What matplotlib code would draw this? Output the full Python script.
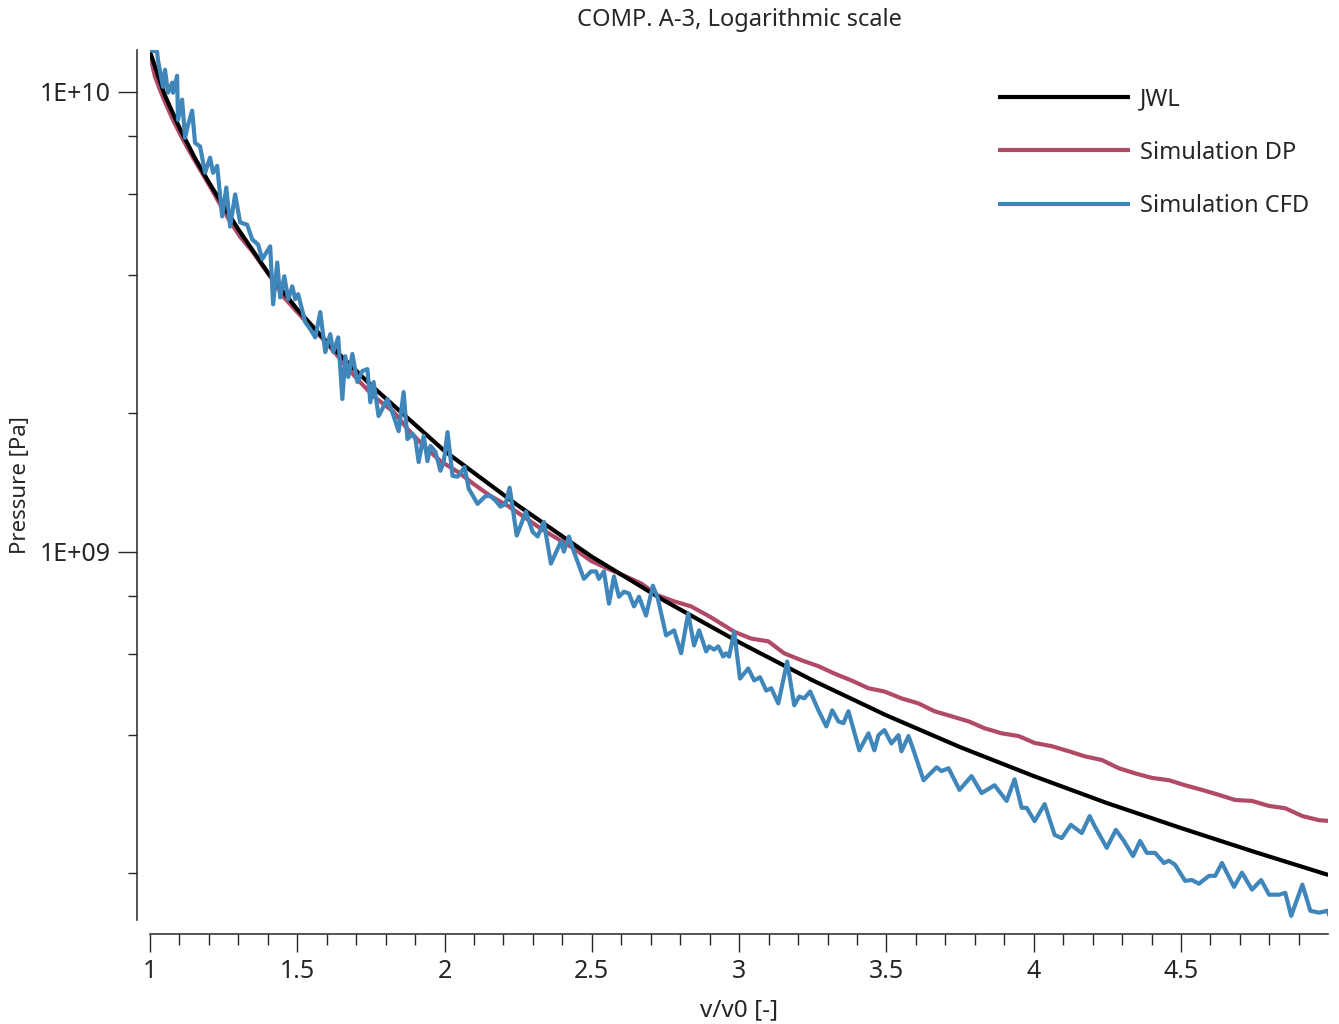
import numpy as np
import matplotlib
matplotlib.use("Agg")
import matplotlib.pyplot as plt
from matplotlib.ticker import FixedLocator, LogLocator, NullFormatter, MultipleLocator

plt.rcParams['font.family'] = ['Noto Sans', 'DejaVu Sans']

# ---------------- data (v/v0, log10 of pressure in Pa) ----------------
jwl_x = [1.0, 1.05, 1.1, 1.15, 1.2, 1.25, 1.3, 1.4, 1.5, 1.6, 1.75, 2.0,
         2.25, 2.5, 2.75, 3.0, 3.25, 3.5, 3.75, 4.0, 4.25, 4.5, 4.75, 5.0]
jwl_logp = [10.087, 9.993, 9.922, 9.859, 9.803, 9.751, 9.701, 9.607, 9.527, 9.456,
            9.362, 9.219, 9.100, 8.989, 8.892, 8.803, 8.720, 8.644, 8.575, 8.512,
            8.453, 8.399, 8.347, 8.297]

dp_x = [1.000, 1.017, 1.034, 1.051, 1.078, 1.112, 1.146, 1.170, 1.204, 1.238,
        1.272, 1.306, 1.350, 1.374, 1.415, 1.452, 1.500, 1.544, 1.588, 1.646,
        1.704, 1.759, 1.827, 1.874, 1.929, 1.986, 2.044, 2.099, 2.156, 2.214,
        2.269, 2.327, 2.384, 2.439, 2.497, 2.554, 2.609, 2.667, 2.724, 2.779,
        2.837, 2.905, 2.983, 3.041, 3.099, 3.153, 3.211, 3.269, 3.323, 3.381,
        3.439, 3.493, 3.551, 3.609, 3.663, 3.721, 3.779, 3.833, 3.891, 3.949,
        4.003, 4.061, 4.119, 4.173, 4.231, 4.289, 4.344, 4.401, 4.459, 4.514,
        4.571, 4.629, 4.684, 4.741, 4.799, 4.854, 4.912, 4.969, 5.014]
dp_logp = [10.080, 10.033, 10.004, 9.978, 9.939, 9.896, 9.857, 9.831, 9.794, 9.755,
           9.718, 9.685, 9.651, 9.629, 9.592, 9.555, 9.521, 9.490, 9.462, 9.419,
           9.375, 9.338, 9.304, 9.267, 9.230, 9.197, 9.174, 9.147, 9.121, 9.100,
           9.076, 9.050, 9.028, 9.007, 8.980, 8.963, 8.948, 8.931, 8.905, 8.892,
           8.881, 8.857, 8.826, 8.811, 8.805, 8.779, 8.764, 8.751, 8.735, 8.720,
           8.703, 8.696, 8.681, 8.670, 8.653, 8.642, 8.631, 8.616, 8.605, 8.599,
           8.584, 8.577, 8.566, 8.555, 8.547, 8.529, 8.518, 8.508, 8.503, 8.492,
           8.482, 8.471, 8.460, 8.458, 8.447, 8.442, 8.425, 8.416, 8.414]

cfd_x = [1.000, 1.024, 1.027, 1.044, 1.051, 1.061, 1.075, 1.078, 1.092, 1.095,
         1.109, 1.119, 1.129, 1.143, 1.153, 1.170, 1.187, 1.204, 1.214, 1.228,
         1.245, 1.259, 1.272, 1.289, 1.306, 1.330, 1.347, 1.367, 1.381, 1.408,
         1.418, 1.432, 1.442, 1.456, 1.469, 1.483, 1.493, 1.503, 1.527, 1.544,
         1.561, 1.578, 1.595, 1.612, 1.622, 1.639, 1.653, 1.663, 1.673, 1.687,
         1.704, 1.721, 1.738, 1.748, 1.759, 1.776, 1.806, 1.827, 1.844, 1.861,
         1.874, 1.891, 1.901, 1.912, 1.929, 1.942, 1.952, 1.969, 1.986, 1.997,
         2.010, 2.027, 2.044, 2.068, 2.082, 2.112, 2.139, 2.156, 2.173, 2.190,
         2.207, 2.221, 2.245, 2.276, 2.299, 2.316, 2.337, 2.361, 2.395, 2.405,
         2.422, 2.439, 2.473, 2.497, 2.514, 2.524, 2.541, 2.558, 2.575, 2.592,
         2.609, 2.626, 2.643, 2.660, 2.684, 2.707, 2.724, 2.752, 2.779, 2.803,
         2.827, 2.847, 2.864, 2.888, 2.898, 2.915, 2.929, 2.946, 2.956, 2.966,
         2.983, 3.003, 3.031, 3.051, 3.071, 3.092, 3.109, 3.133, 3.163, 3.187,
         3.204, 3.221, 3.241, 3.269, 3.296, 3.316, 3.337, 3.354, 3.371, 3.408,
         3.439, 3.459, 3.473, 3.493, 3.517, 3.541, 3.551, 3.575, 3.592, 3.626,
         3.670, 3.687, 3.711, 3.748, 3.789, 3.823, 3.867, 3.908, 3.935, 3.959,
         3.976, 4.003, 4.037, 4.071, 4.095, 4.126, 4.163, 4.190, 4.207, 4.248,
         4.279, 4.306, 4.337, 4.361, 4.384, 4.412, 4.442, 4.459, 4.480, 4.514,
         4.537, 4.561, 4.595, 4.616, 4.639, 4.680, 4.707, 4.741, 4.772, 4.799,
         4.833, 4.854, 4.874, 4.912, 4.939, 4.969, 4.997, 5.010]
cfd_logp = [10.091, 10.087, 10.069, 10.011, 10.048, 9.998, 10.020, 9.998, 10.035, 9.939,
            9.983, 9.900, 9.928, 9.959, 9.889, 9.881, 9.824, 9.857, 9.824, 9.839,
            9.729, 9.792, 9.707, 9.777, 9.716, 9.711, 9.679, 9.668, 9.636, 9.664,
            9.538, 9.629, 9.553, 9.599, 9.549, 9.577, 9.549, 9.560, 9.499, 9.484,
            9.466, 9.521, 9.434, 9.473, 9.434, 9.466, 9.332, 9.425, 9.380, 9.430,
            9.369, 9.393, 9.397, 9.325, 9.369, 9.295, 9.332, 9.295, 9.262, 9.347,
            9.245, 9.256, 9.245, 9.195, 9.252, 9.197, 9.230, 9.217, 9.176, 9.195,
            9.260, 9.165, 9.163, 9.184, 9.137, 9.104, 9.121, 9.121, 9.111, 9.098,
            9.104, 9.139, 9.035, 9.087, 9.043, 9.033, 9.065, 8.974, 9.022, 9.000,
            9.033, 9.000, 8.941, 8.957, 8.957, 8.941, 8.957, 8.887, 8.946, 8.902,
            8.913, 8.909, 8.881, 8.902, 8.861, 8.926, 8.898, 8.818, 8.829, 8.779,
            8.866, 8.796, 8.829, 8.783, 8.794, 8.787, 8.794, 8.772, 8.779, 8.772,
            8.826, 8.724, 8.746, 8.720, 8.727, 8.698, 8.703, 8.670, 8.761, 8.666,
            8.685, 8.681, 8.696, 8.655, 8.620, 8.655, 8.631, 8.627, 8.653, 8.568,
            8.605, 8.568, 8.601, 8.612, 8.583, 8.601, 8.566, 8.599, 8.568, 8.503,
            8.531, 8.523, 8.529, 8.482, 8.512, 8.475, 8.492, 8.458, 8.505, 8.443,
            8.443, 8.414, 8.451, 8.384, 8.377, 8.406, 8.388, 8.425, 8.403, 8.356,
            8.395, 8.371, 8.338, 8.371, 8.345, 8.345, 8.323, 8.328, 8.319, 8.284,
            8.286, 8.278, 8.295, 8.295, 8.323, 8.271, 8.302, 8.265, 8.286, 8.254,
            8.254, 8.258, 8.208, 8.276, 8.219, 8.215, 8.219, 8.200]

series_labels = ["JWL", "Simulation DP", "Simulation CFD"]
ytick_values = [1e9, 1e10]
ytick_labels = ["1E+09", "1E+10"]
xtick_values = [1, 1.5, 2, 2.5, 3, 3.5, 4, 4.5]
xtick_labels = ["1", "1.5", "2", "2.5", "3", "3.5", "4", "4.5"]

# ---------------- figure ----------------
W, H = 1339, 1024
fig = plt.figure(figsize=(W / 100, H / 100), dpi=100)
ax = fig.add_axes([150 / W, 1 - 920 / H, (1328 - 150) / W, (920 - 50) / H])

c_jwl = "#000000"
c_dp = "#b04a66"
c_cfd = "#3f86bb"
lw = 3.0
kw = dict(lw=lw, solid_joinstyle="round", solid_capstyle="butt")

ax.plot(jwl_x, np.power(10.0, jwl_logp), color=c_jwl, label=series_labels[0], zorder=3, **kw)
ax.plot(dp_x, np.power(10.0, dp_logp), color=c_dp, label=series_labels[1], zorder=2, **kw)
ax.plot(cfd_x, np.power(10.0, cfd_logp), color=c_cfd, label=series_labels[2], zorder=4, **kw)

ax.set_yscale("log")
ax.set_xlim(1.0, 4.999)
ax.set_ylim(10 ** 8.199, 10 ** 10.091)

for s in ["top", "right"]:
    ax.spines[s].set_visible(False)
ax.spines["left"].set_position(("outward", 9.4))
ax.spines["bottom"].set_position(("outward", 10))
for s in ["left", "bottom"]:
    ax.spines[s].set_linewidth(1.1)
    ax.spines[s].set_color("#262626")

ax.yaxis.set_major_locator(FixedLocator(ytick_values))
ax.set_yticklabels(ytick_labels)
ax.yaxis.set_minor_locator(LogLocator(base=10, subs=[2, 4, 6, 8]))
ax.yaxis.set_minor_formatter(NullFormatter())

ax.xaxis.set_major_locator(FixedLocator(xtick_values))
ax.set_xticklabels(xtick_labels)
ax.xaxis.set_minor_locator(MultipleLocator(0.1))

ax.tick_params(axis="y", which="major", length=14, width=1.0, pad=5,
               labelsize=18, colors="#262626")
ax.tick_params(axis="y", which="minor", length=6.5, width=1.0, colors="#262626")
ax.tick_params(axis="x", which="major", length=13, width=1.0, pad=5,
               labelsize=18, colors="#262626")
ax.tick_params(axis="x", which="minor", length=8, width=1.0, colors="#262626")

ax.set_xlabel("v/v0 [-]", fontsize=17.5, color="#262626", labelpad=10)
ax.set_ylabel("Pressure [Pa]", fontsize=16, color="#262626", labelpad=6)
ax.set_title("COMP. A-3, Logarithmic scale", fontsize=17, color="#262626", pad=17)

leg = ax.legend(loc="upper left", bbox_to_anchor=(998 / W, 1 - 87 / H),
                bbox_transform=fig.transFigure, frameon=False, fontsize=17,
                handlelength=5.6, handletextpad=0.4, labelspacing=1.25,
                borderpad=0, borderaxespad=0)
for t in leg.get_texts():
    t.set_color("#262626")

fig.savefig("out.png", dpi=100)
